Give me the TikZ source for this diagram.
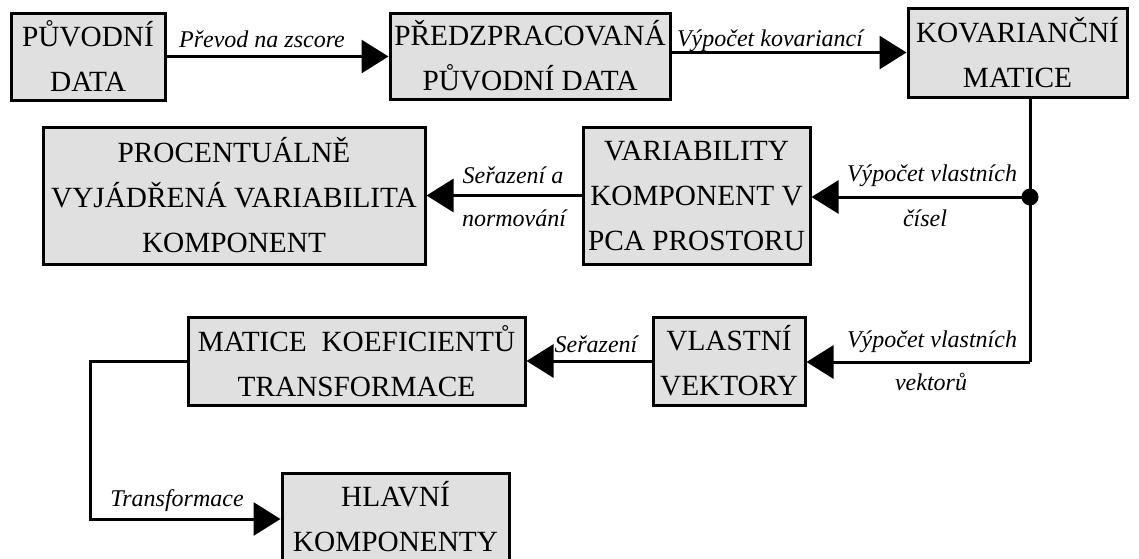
\documentclass[tikz,border=0pt]{standalone}
\usepackage{fontspec}
\setmainfont{Liberation Serif}
\usetikzlibrary{arrows.meta,calc}
\definecolor{boxgray}{RGB}{224,224,224}
\tikzset{
  box/.style={draw=black, fill=boxgray, line width=3pt, inner sep=0pt, align=center,
    font=\fontsize{29.3}{45}\selectfont},
  conn/.style={line width=3pt, -{Triangle[length=27pt,width=33pt]}},
  plain/.style={line width=3pt},
  lbl/.style={anchor=base, inner sep=0pt, font=\fontsize{24}{28}\selectfont\itshape},
}
\begin{document}
\begin{tikzpicture}[x=1pt,y=-1pt]
\useasboundingbox (0,0) rectangle (1139,558);
\node[box, minimum width=154pt, minimum height=87pt] (A) at (88,56.5) {PŮVODNÍ\\DATA};
\node[box, minimum width=280pt, minimum height=86pt] (B) at (530,56) {PŘEDZPRACOVANÁ\\PŮVODNÍ DATA};
\node[box, minimum width=219pt, minimum height=89pt] (C) at (1017.5,52.5) {KOVARIANČNÍ\\MATICE};
\node[box, minimum width=382pt, minimum height=137pt] (D) at (234,195.5) {PROCENTUÁLNĚ\\VYJÁDŘENÁ VARIABILITA\\KOMPONENT};
\node[box, minimum width=227pt, minimum height=137pt] (E) at (696.5,195.5) {VARIABILITY\\KOMPONENT V\\PCA PROSTORU};
\node[box, minimum width=337pt, minimum height=88pt] (F) at (356.5,361) {MATICE\ \ KOEFICIENTŮ\\TRANSFORMACE};
\node[box, minimum width=152pt, minimum height=88pt] (G) at (729,361) {VLASTNÍ\\VEKTORY};
\node[box, minimum width=227pt, minimum height=87pt] (H) at (395.5,516.5) {HLAVNÍ\\KOMPONENTY};

\coordinate (j1) at (1030,197);
\coordinate (j2) at (1030,362);
\coordinate (t) at (90,519);

\draw[conn] (A.east) -- (B.west |- A.east);
\draw[conn] (B.east |- C.west) -- (C.west);
\draw[plain] (C.south -| j1) -- (j1) -- (j2);
\draw[conn] (j1) -- (E.east |- j1);
\draw[conn] (j2) -- (G.east |- j2);
\draw[conn] (E.west) -- (D.east);
\draw[conn] (G.west) -- (F.east);
\draw[conn] (F.west) -| (t) -- (H.west |- t);
\fill (j1) circle (8.5pt);

\node[lbl] (l1) at (262,47) {Převod na zscore};
\node[lbl] (l2) at (770,46) {Výpočet kovariancí};
\node[lbl] (l3) at (513,183) {Seřazení a};
\node[lbl] (l4) at (514,226) {normování};
\node[lbl] (l5) at (932,181) {Výpočet vlastních};
\node[lbl] (l6) at (925,226) {čísel};
\node[lbl] (l7) at (596,352) {Seřazení};
\node[lbl] (l8) at (932,347) {Výpočet vlastních};
\node[lbl] (l9) at (931,390) {vektorů};
\node[lbl] (l10) at (177,506) {Transformace};
\end{tikzpicture}
\end{document}
